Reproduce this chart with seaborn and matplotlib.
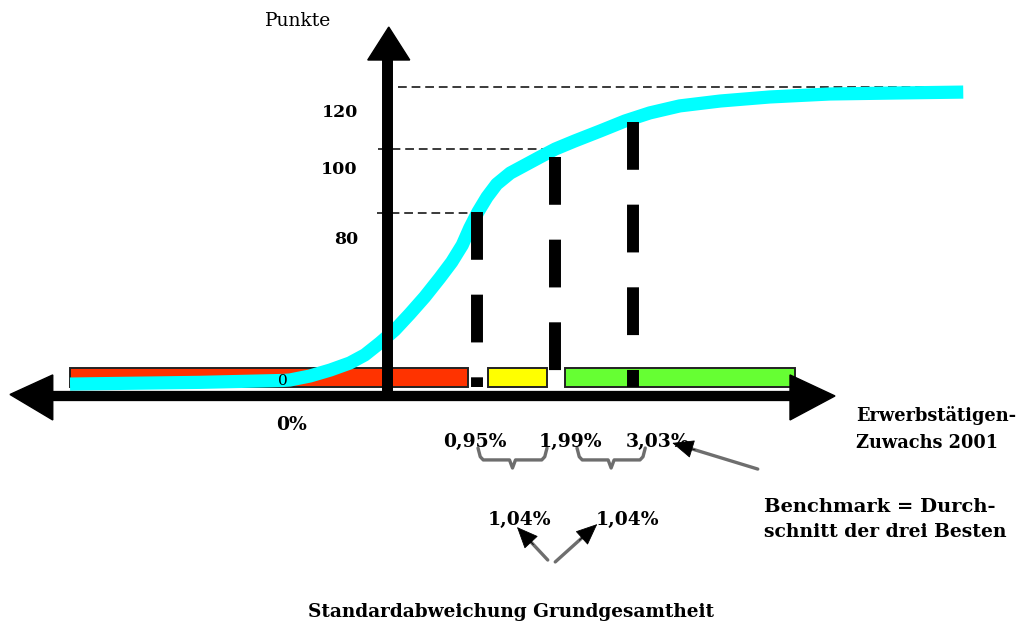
import matplotlib
matplotlib.use("Agg")
import matplotlib.pyplot as plt
import seaborn as sns
import pandas as pd
import numpy as np

# Kurve: Erwerbstätigen-Zuwachs (%) -> Punkte (schematisch)
kurve_x = [-4.48, -2.75, -1.64, -1.55, -1.28, -1.01, -0.75, -0.55, -0.35, -0.15, 0.05,
           0.25, 0.45, 0.61, 0.75, 0.85, 0.96, 1.08, 1.21, 1.39, 1.59, 1.79, 1.99,
           2.25, 2.59, 2.92, 3.25, 3.65, 4.19, 4.85, 5.65, 6.59, 7.43]
kurve_y = [-0.5, 0.3, 1.2, 1.4, 3.3, 6.1, 9.4, 13.2, 18.8, 24.9, 32.5,
           40.5, 49.4, 56.9, 64.9, 72.9, 80.5, 87.5, 93.6, 98.8, 102.6, 106.4, 110.1,
           113.9, 118.6, 123.3, 127.1, 130.4, 132.7, 134.6, 136.0, 136.5, 136.9]

# Farbzonen auf der x-Achse
zone_links = [-4.48, 1.09, 2.12]
zone_rechts = [0.83, 1.88, 5.19]
zone_farben = ["#ff3300", "#ffff00", "#66ff33"]

# Schwellenwerte (Mittelwert, +1 und +2 Standardabweichungen)
schwellen = [0.95, 1.99, 3.03]
schwellen_labels = ["0,95%", "1,99%", "3,03%"]
schwellen_punkte = [80.5, 106.4, 122.8]

# horizontale Hilfslinien
hilfs_y = [80.0, 110.0, 139.3]
hilfs_von = [-0.39, -0.37, -0.11]
hilfs_bis = [1.03, 1.99, 7.29]

# Beschriftung der y-Achse
ytick_werte = [127.1, 100.7, 67.3]
ytick_labels = ["120", "100", "80"]

sns.set_theme(style="white")
plt.rcParams["font.family"] = ["DejaVu Serif"]

fig = plt.figure(figsize=(10.23, 6.28), dpi=100)
ax = fig.add_axes([0, 0, 1, 1])
ax.set_xlim(-406 / 75, 617 / 75)
ax.set_ylim((383 - 628) / 2.125, 383 / 2.125)
ax.axis("off")

# Zonen
breiten = [r - l for l, r in zip(zone_links, zone_rechts)]
ax.barh([2.6] * 3, breiten, left=zone_links, height=9.0, color=zone_farben,
        edgecolor="#222222", linewidth=1.4, zorder=2)

# Hilfslinien
for y, a, b in zip(hilfs_y, hilfs_von, hilfs_bis):
    ax.plot([a, b], [y, y], color="#3a3a3a", lw=1.4, dashes=(4.5, 2.5), zorder=2.5)

# Kurve
df = pd.DataFrame({"x": kurve_x, "y": kurve_y})
sns.lineplot(data=df, x="x", y="y", sort=False, estimator=None, color="#00ffff",
             lw=9.5, ax=ax, zorder=3, solid_joinstyle="round", solid_capstyle="butt")
ax.set_xlabel("")
ax.set_ylabel("")

# dicke gestrichelte Senkrechte
for x, top in zip(schwellen, schwellen_punkte):
    ax.plot([x, x], [top, -1.9], color="black", lw=8.6, dashes=(4.0, 2.92),
            solid_capstyle="butt", zorder=4)

# Achsen mit Pfeilen
ax.plot([-4.75, 5.15], [-6.1, -6.1], color="black", lw=7.4, solid_capstyle="butt", zorder=5)
ax.fill([-5.28, -4.71, -4.71], [-5.4, 3.8, -17.4], color="black", zorder=5)
ax.fill([5.72, 5.12, 5.12], [-6.1, 3.8, -17.4], color="black", zorder=5)
ax.plot([-0.25, -0.25], [-6.1, 153], color="black", lw=7.9, solid_capstyle="butt", zorder=5)
ax.fill([-0.23, -0.51, 0.05], [167.5, 152, 152], color="black", zorder=5)

# Klammern unter den Schwellen
def klammer(x0, x1, y0=-30.6, y1=-36.2, y2=-40.0):
    m = (x0 + x1) / 2
    xs = [x0, x0 + 0.03, x0 + 0.07, m - 0.04, m, m + 0.04, x1 - 0.07, x1 - 0.03, x1]
    ys = [y0, y1 + 1.5, y1, y1, y2, y1, y1, y1 + 1.5, y0]
    ax.plot(xs, ys, color="#6e6e6e", lw=2.4, zorder=3, solid_joinstyle="round")

klammer(0.96, 1.88)
klammer(2.28, 3.19)

# Pfeile: grauer Schaft, schwarze Spitze
def pfeil(tail, tip, kopf=20):
    t = ax.transData
    p0 = t.transform(tail)
    p1 = t.transform(tip)
    d = np.hypot(*(p1 - p0))
    f = 1 - (kopf * 0.5) / d
    mid = t.inverted().transform(p0 + (p1 - p0) * f)
    ax.plot([tail[0], mid[0]], [tail[1], mid[1]], color="#6e6e6e", lw=2.4, zorder=6)
    back = t.inverted().transform(p1 - (p1 - p0) * (kopf * 1.2 / d))
    ax.annotate("", xy=tip, xytext=back,
                arrowprops=dict(arrowstyle="-|>,head_length=1.4,head_width=0.6",
                                facecolor="black", edgecolor="black", lw=0.6,
                                mutation_scale=10, shrinkA=0, shrinkB=0), zorder=7)

pfeil((4.69, -40.5), (3.55, -28.2))
pfeil((1.89, -83.3), (1.48, -67.8))
pfeil((1.99, -84.2), (2.55, -66.4))

# Texte
fett = dict(fontweight="bold", fontsize=13.5, color="black", zorder=8)
ax.text(-1.44, 170.4, "Punkte", ha="center", va="center", fontsize=13.5, color="black", zorder=8)
for y, s in zip(ytick_werte, ytick_labels):
    ax.text(-0.64, y, s, ha="right", va="center", fontweight="bold", fontsize=12.5,
            color="black", zorder=8)
ax.text(-1.64, 0.9, "0", ha="center", va="center", fontsize=11, color="black", zorder=8)
ax.text(-1.52, -19.8, "0%", ha="center", va="center", **fett)
for x, s in zip([0.92, 2.19, 3.35], schwellen_labels):
    ax.text(x, -27.8, s, ha="center", va="center", **fett)
ax.text(1.52, -64.5, "1,04%", ha="center", va="center", **fett)
ax.text(2.96, -64.5, "1,04%", ha="center", va="center", **fett)
ax.text(6.0, -15.1, "Erwerbstätigen-", ha="left", va="center",
        fontweight="bold", fontsize=12.8, color="black", zorder=8)
ax.text(6.0, -28.2, "Zuwachs 2001", ha="left", va="center",
        fontweight="bold", fontsize=12.8, color="black", zorder=8)
ax.text(4.77, -58.4, "Benchmark = Durch-", ha="left", va="center",
        fontweight="bold", fontsize=14, color="black", zorder=8)
ax.text(4.77, -70.1, "schnitt der drei Besten", ha="left", va="center", **fett)
ax.text(1.40, -107.8, "Standardabweichung Grundgesamtheit", ha="center", va="center",
        fontweight="bold", fontsize=13.3, color="black", zorder=8)

fig.savefig("out.png", dpi=100, facecolor="white")
